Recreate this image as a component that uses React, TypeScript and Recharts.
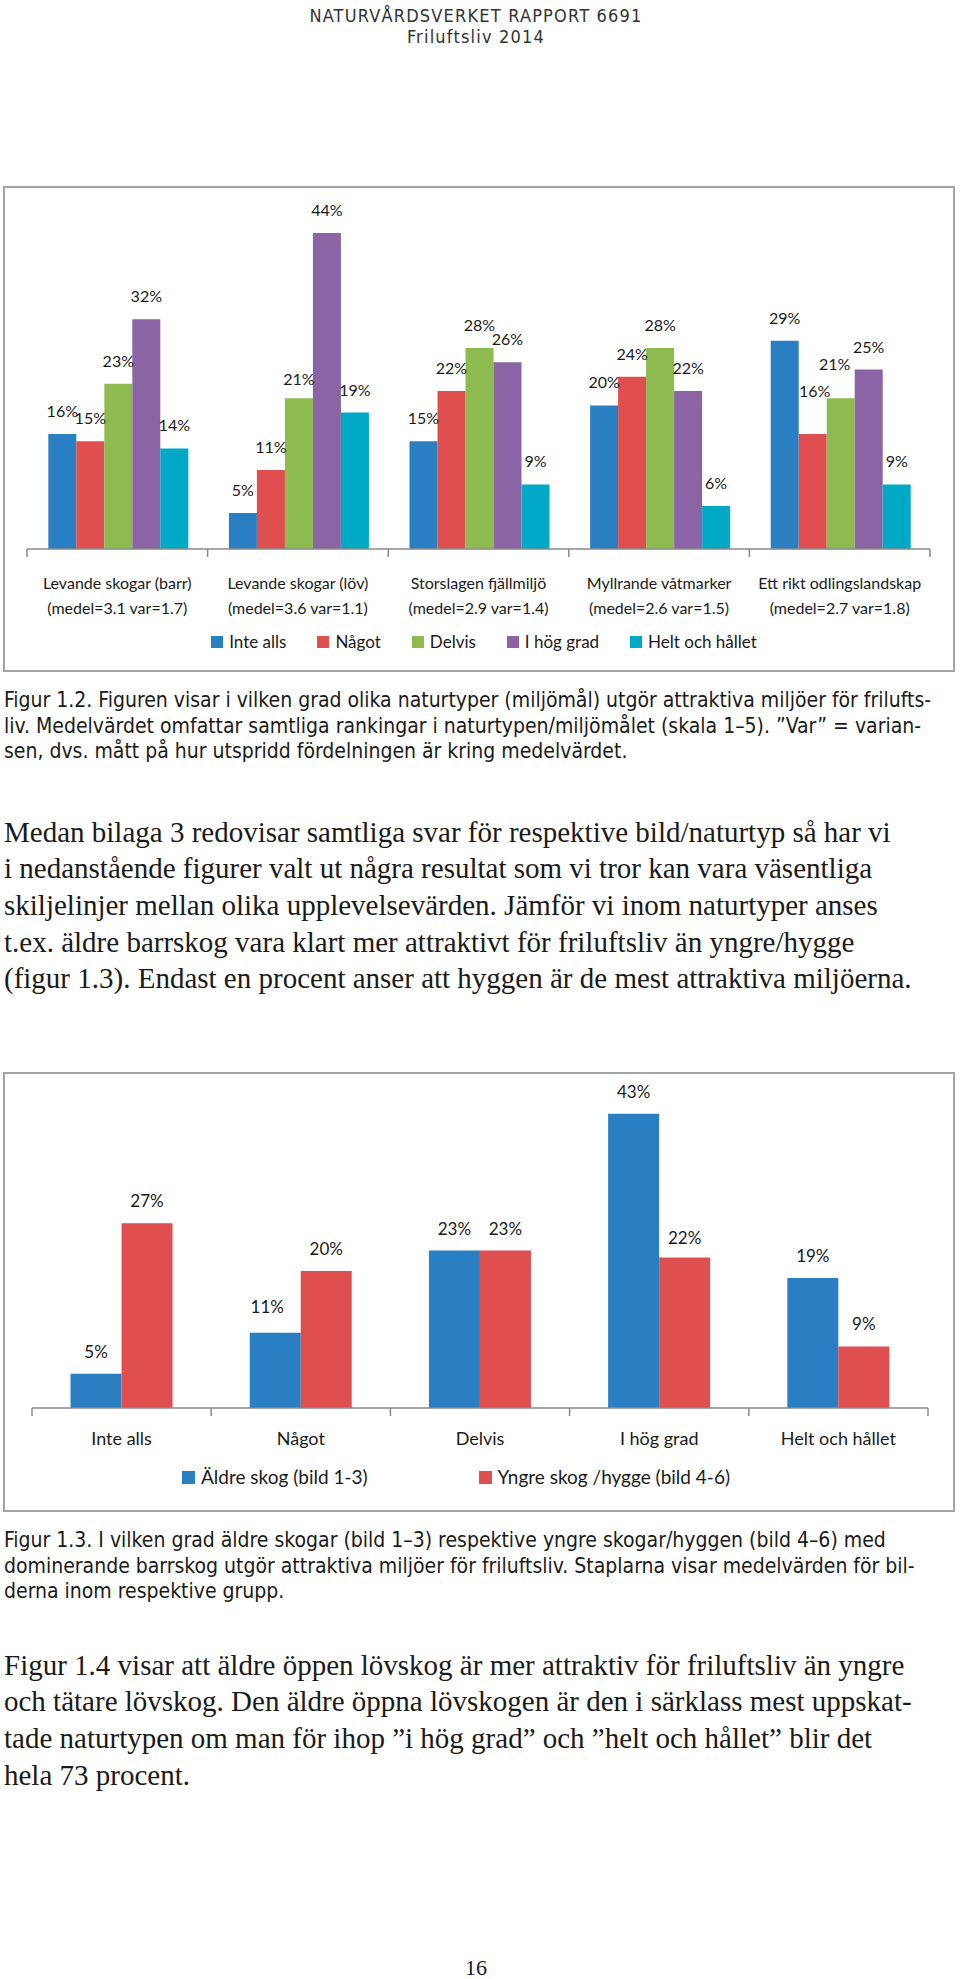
import React from 'react';
import { Bar, BarChart, LabelList, Legend, XAxis, YAxis } from 'recharts';

// Figur 1.2 – naturtyper
const naturtyper = [
  'Levande skogar (barr)',
  'Levande skogar (löv)',
  'Storslagen fjällmiljö',
  'Myllrande våtmarker',
  'Ett rikt odlingslandskap',
];
const medel = [3.1, 3.6, 2.9, 2.6, 2.7];
const varians = [1.7, 1.1, 1.4, 1.5, 1.8];
const inteAlls = [16, 5, 15, 20, 29];
const nagot = [15, 11, 22, 24, 16];
const delvis = [23, 21, 28, 28, 21];
const iHogGrad = [32, 44, 26, 22, 25];
const heltOchHallet = [14, 19, 9, 6, 9];

// Figur 1.3 – äldre vs yngre skog
const svarsgrader = ['Inte alls', 'Något', 'Delvis', 'I hög grad', 'Helt och hållet'];
const aldreSkog = [5, 11, 23, 43, 19];
const yngreSkog = [27, 20, 23, 22, 9];

const CHART_FONT = 'Lato, "Open Sans", sans-serif';
const SERIF = '"Liberation Serif", "DejaVu Serif", serif';
const NARROW = '"Liberation Sans Narrow", "DejaVu Sans Condensed", Roboto, sans-serif';
const INK = '#1a1a1a';
const AXIS_GREY = '#8a8a8a';

const COLORS = {
  blue: '#2a7fc2',
  red: '#df4f4f',
  green: '#8dbb4f',
  purple: '#8b64a6',
  cyan: '#00a9c6',
};

const W = 960;
const M1 = { top: 3, left: 27, right: 30, bottom: 42 };
const M2 = { top: 27, left: 32, right: 32, bottom: 43 };
const BAND1 = (W - M1.left - M1.right) / naturtyper.length;
const BAND2 = (W - M2.left - M2.right) / svarsgrader.length;

// a few labels were moved by hand in the original
const LABEL_NUDGE: Record<string, [number, number]> = {
  'nagot-4': [2, 20],
  'delvis-1': [0, -4],
  'delvis-4': [-6, 11],
  'aldre-1': [-8, 4],
  'yngre-3': [0, -3],
};

const data1 = naturtyper.map((name, i) => ({
  name,
  inteAlls: inteAlls[i],
  nagot: nagot[i],
  delvis: delvis[i],
  iHogGrad: iHogGrad[i],
  heltOchHallet: heltOchHallet[i],
}));

const data2 = svarsgrader.map((name, i) => ({
  name,
  aldre: aldreSkog[i],
  yngre: yngreSkog[i],
}));

const series1 = [
  { key: 'inteAlls', name: 'Inte alls', color: COLORS.blue },
  { key: 'nagot', name: 'Något', color: COLORS.red },
  { key: 'delvis', name: 'Delvis', color: COLORS.green },
  { key: 'iHogGrad', name: 'I hög grad', color: COLORS.purple },
  { key: 'heltOchHallet', name: 'Helt och hållet', color: COLORS.cyan },
];

const series2 = [
  { key: 'aldre', name: 'Äldre skog (bild 1-3)', color: COLORS.blue },
  { key: 'yngre', name: 'Yngre skog /hygge (bild 4-6)', color: COLORS.red },
];

function pctLabel(seriesKey: string, fontSize: number, offset: number) {
  return (props: any) => {
    const vb = props.viewBox ?? props;
    const nudge = LABEL_NUDGE[`${seriesKey}-${props.index}`] ?? [0, 0];
    return (
      <text
        x={vb.x + vb.width / 2 + nudge[0]}
        y={vb.y - offset - nudge[1]}
        textAnchor="middle"
        fontFamily={CHART_FONT}
        fontSize={fontSize}
        fill={INK}
      >
        {`${props.value}%`}
      </text>
    );
  };
}

function boundaryTicks(x: number, y: number, band: number, isLast: boolean) {
  return (
    <>
      <line x1={x - band / 2} x2={x - band / 2} y1={y} y2={y + 8} stroke={AXIS_GREY} strokeWidth={1.5} />
      {isLast && (
        <line x1={x + band / 2} x2={x + band / 2} y1={y} y2={y + 8} stroke={AXIS_GREY} strokeWidth={1.5} />
      )}
    </>
  );
}

function NaturTick(props: any) {
  const { x, y, payload, index } = props;
  const i = payload?.index ?? index;
  return (
    <g>
      {boundaryTicks(x, y, BAND1, i === naturtyper.length - 1)}
      <text x={x} y={y + 40} textAnchor="middle" fontFamily={CHART_FONT} fontSize={16} fill={INK}>
        {payload.value}
      </text>
      <text x={x} y={y + 65} textAnchor="middle" fontFamily={CHART_FONT} fontSize={16} fill={INK}>
        {`(medel=${medel[i]} var=${varians[i]})`}
      </text>
    </g>
  );
}

function GradTick(props: any) {
  const { x, y, payload, index } = props;
  const i = payload?.index ?? index;
  return (
    <g>
      {boundaryTicks(x, y, BAND2, i === svarsgrader.length - 1)}
      <text x={x} y={y + 37} textAnchor="middle" fontFamily={CHART_FONT} fontSize={18} fill={INK}>
        {payload.value}
      </text>
    </g>
  );
}

// legend in series order (recharts sorts by name otherwise)
function squareLegend(order: string[], gap: number, box: number, fontSize: number) {
  return (props: any) => {
    const items = [...(props.payload ?? [])].sort(
      (a: any, b: any) => order.indexOf(a.value) - order.indexOf(b.value),
    );
    return (
      <div
        style={{
          display: 'flex',
          justifyContent: 'center',
          alignItems: 'center',
          height: 20,
          lineHeight: '20px',
          fontFamily: CHART_FONT,
          fontSize,
          color: INK,
          whiteSpace: 'nowrap',
        }}
      >
        {items.map((p: any, i: number) => (
          <span key={p.value} style={{ display: 'inline-flex', alignItems: 'center', marginLeft: i ? gap : 0 }}>
            <span style={{ display: 'inline-block', width: box, height: box, background: p.color, marginRight: 6 }} />
            {p.value}
          </span>
        ))}
      </div>
    );
  };
}

function Frame({ top, height }: { top: number; height: number }) {
  return (
    <div
      style={{
        position: 'absolute',
        left: 3,
        top,
        width: 952,
        height,
        border: '2px solid #a3a3a3',
        boxSizing: 'border-box',
      }}
    />
  );
}

function Lines(props: {
  lines: string[];
  top: number;
  left?: number;
  fontSize: number;
  lineHeight: number;
  fontFamily: string;
  color?: string;
  align?: 'left' | 'center';
  letterSpacing?: number;
}) {
  return (
    <div
      style={{
        position: 'absolute',
        top: props.top,
        left: props.left ?? 4,
        width: props.align === 'center' ? 952 : undefined,
        fontFamily: props.fontFamily,
        fontSize: props.fontSize,
        lineHeight: `${props.lineHeight}px`,
        color: props.color ?? INK,
        textAlign: props.align ?? 'left',
        letterSpacing: props.letterSpacing,
        whiteSpace: 'nowrap',
      }}
    >
      {props.lines.map((l) => (
        <div key={l}>{l}</div>
      ))}
    </div>
  );
}

const caption12 = [
  'Figur 1.2. Figuren visar i vilken grad olika naturtyper (miljömål) utgör attraktiva miljöer för frilufts-',
  'liv. Medelvärdet omfattar samtliga rankingar i naturtypen/miljömålet (skala 1–5). ”Var” = varian-',
  'sen, dvs. mått på hur utspridd fördelningen är kring medelvärdet.',
];

const body1 = [
  'Medan bilaga 3 redovisar samtliga svar för respektive bild/naturtyp så har vi',
  'i nedanstående figurer valt ut några resultat som vi tror kan vara väsentliga',
  'skiljelinjer mellan olika upplevelsevärden. Jämför vi inom naturtyper anses',
  't.ex. äldre barrskog vara klart mer attraktivt för friluftsliv än yngre/hygge',
  '(figur 1.3). Endast en procent anser att hyggen är de mest attraktiva miljöerna.',
];

const caption13 = [
  'Figur 1.3. I vilken grad äldre skogar (bild 1–3) respektive yngre skogar/hyggen (bild 4–6) med',
  'dominerande barrskog utgör attraktiva miljöer för friluftsliv. Staplarna visar medelvärden för bil-',
  'derna inom respektive grupp.',
];

const body2 = [
  'Figur 1.4 visar att äldre öppen lövskog är mer attraktiv för friluftsliv än yngre',
  'och tätare lövskog. Den äldre öppna lövskogen är den i särklass mest uppskat-',
  'tade naturtypen om man för ihop ”i hög grad” och ”helt och hållet” blir det',
  'hela 73 procent.',
];

export default function App() {
  return (
    <div style={{ position: 'relative', width: 960, height: 1979, background: '#fff', overflow: 'hidden' }}>
      <style>{'body{margin:0;}'}</style>

      <Lines
        lines={['NATURVÅRDSVERKET RAPPORT 6691', 'Friluftsliv 2014']}
        top={4.5}
        left={0}
        fontSize={18}
        lineHeight={21.8}
        fontFamily={NARROW}
        color="#333"
        align="center"
        letterSpacing={1.2}
      />

      <Frame top={186} height={486} />
      <div style={{ position: 'absolute', left: 0, top: 187 }}>
        <BarChart width={W} height={484} data={data1} margin={M1} barCategoryGap="11.8%" barGap={0}>
          <YAxis hide domain={[0, 50]} />
          <XAxis
            dataKey="name"
            height={80}
            interval={0}
            tickSize={0}
            tickMargin={0}
            tickLine={false}
            axisLine={{ stroke: AXIS_GREY, strokeWidth: 1.5 }}
            tick={<NaturTick />}
          />
          <Legend
            verticalAlign="bottom"
            content={squareLegend(series1.map((s) => s.name), 31, 12, 17)}
            wrapperStyle={{ left: 4, top: 445, bottom: 'auto', width: W, height: 0 }}
          />
          {series1.map((s) => (
            <Bar key={s.key} dataKey={s.key} name={s.name} fill={s.color} isAnimationActive={false}>
              <LabelList dataKey={s.key} content={pctLabel(s.key, 16, 17)} />
            </Bar>
          ))}
        </BarChart>
      </div>

      <Lines lines={caption12} top={688} fontSize={21} lineHeight={25.5} fontFamily={NARROW} />
      <Lines lines={body1} top={813.9} fontSize={29} lineHeight={36.6} fontFamily={SERIF} />

      <Frame top={1072} height={440} />
      <div style={{ position: 'absolute', left: 0, top: 1073 }}>
        <BarChart width={W} height={438} data={data2} margin={M2} barCategoryGap="21.5%" barGap={0}>
          <YAxis hide domain={[0, 45]} />
          <XAxis
            dataKey="name"
            height={60}
            interval={0}
            tickSize={0}
            tickMargin={0}
            tickLine={false}
            axisLine={{ stroke: AXIS_GREY, strokeWidth: 1.5 }}
            tick={<GradTick />}
          />
          <Legend
            verticalAlign="bottom"
            content={squareLegend(series2.map((s) => s.name), 111, 13, 19)}
            wrapperStyle={{ left: -24, top: 394, bottom: 'auto', width: W, height: 0 }}
          />
          {series2.map((s) => (
            <Bar key={s.key} dataKey={s.key} name={s.name} fill={s.color} isAnimationActive={false}>
              <LabelList dataKey={s.key} content={pctLabel(s.key, 17, 16)} />
            </Bar>
          ))}
        </BarChart>
      </div>

      <Lines lines={caption13} top={1528} fontSize={21} lineHeight={25.5} fontFamily={NARROW} />
      <Lines lines={body2} top={1646.9} fontSize={29} lineHeight={36.6} fontFamily={SERIF} />

      <Lines lines={['16']} top={1957.6} left={0} fontSize={22} lineHeight={20} fontFamily={SERIF} align="center" />
    </div>
  );
}
